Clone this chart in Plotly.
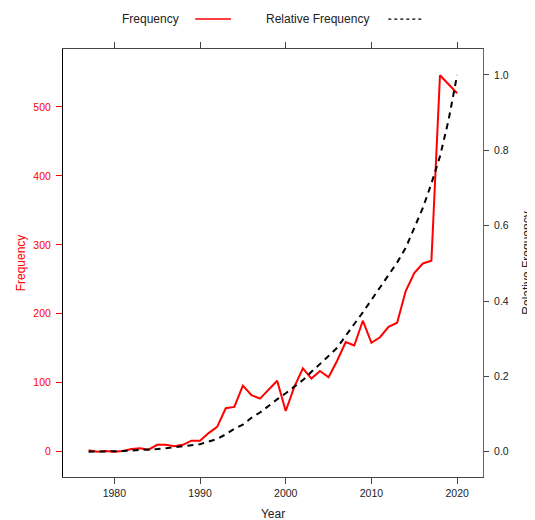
import plotly.graph_objects as go

years = list(range(1977, 2021))
frequency = [2, 0, 1, 0, 1, 4, 5, 3, 10, 10, 8, 10, 16, 16, 27, 36, 63, 65, 96, 82,
             77, 90, 103, 59, 94, 121, 106, 117, 108, 132, 159, 154, 190, 158, 166, 181,
             187, 233, 259, 273, 277, 546, 533, 520]
relative_frequency = [0.000, 0.000, 0.001, 0.001, 0.002, 0.003, 0.004, 0.005, 0.007, 0.009,
                      0.011, 0.014, 0.017, 0.020, 0.026, 0.034, 0.046, 0.061, 0.072, 0.090,
                      0.104, 0.122, 0.139, 0.155, 0.172, 0.190, 0.212, 0.232, 0.254, 0.276,
                      0.306, 0.339, 0.370, 0.404, 0.438, 0.469, 0.502, 0.541, 0.594, 0.647,
                      0.712, 0.784, 0.880, 1.000]
year_ticks = [1980, 1990, 2000, 2010, 2020]
freq_ticks = [0, 100, 200, 300, 400, 500]
rel_ticks = [0.0, 0.2, 0.4, 0.6, 0.8, 1.0]

FONT = "Liberation Sans, Arial, sans-serif"
RED = "#FF0000"

fig = go.Figure()
fig.add_trace(go.Scatter(x=years, y=frequency, mode="lines",
                         line=dict(color=RED, width=2), xaxis="x", yaxis="y",
                         showlegend=False, name="Frequency"))
fig.add_trace(go.Scatter(x=years, y=relative_frequency, mode="lines",
                         line=dict(color="black", width=2, dash="6px,5px"),
                         xaxis="x", yaxis="y2", showlegend=False,
                         name="Relative Frequency"))

fig.update_layout(
    width=535, height=520,
    margin=dict(l=55, r=60, t=41, b=51, autoexpand=False),
    paper_bgcolor="white", plot_bgcolor="white",
    font=dict(family=FONT, size=11, color="#222"),
    showlegend=False,
    xaxis=dict(range=[1974.01, 2023.02], tickvals=year_ticks,
               ticks="outside", ticklen=6, tickcolor="#444", tickwidth=1,
               showline=True, linecolor="#444", linewidth=1, mirror="ticks",
               showgrid=False, zeroline=False, automargin=False,
               tickfont=dict(size=10.5, color="#222"),
               title=dict(text="Year", font=dict(size=12, color="#222"),
                          standoff=12)),
    yaxis=dict(range=[-36.7, 584.1], tickvals=freq_ticks,
               ticks="outside", ticklen=6, tickcolor=RED, tickwidth=1,
               showline=True, linecolor="black", linewidth=1,
               showgrid=False, zeroline=False, automargin=False,
               ticklabelstandoff=3,
               tickfont=dict(size=10.5, color=RED),
               title=dict(text="Frequency", font=dict(size=12, color=RED),
                          standoff=5)),
    yaxis2=dict(overlaying="y", side="right", anchor="x",
                range=[-0.0672, 1.069], tickvals=rel_ticks, tickformat=".1f",
                ticks="outside", ticklen=5, tickcolor="#444", tickwidth=1,
                showline=True, linecolor="#666", linewidth=1,
                showgrid=False, zeroline=False, automargin=False,
                ticklabelstandoff=3,
                tickfont=dict(size=10.5, color="#222"),
                title=dict(text="Relative Frequency",
                           font=dict(size=12, color="#222"), standoff=14)),
)

# manual legend (text followed by line sample), in paper coordinates
leg_y = 1.070
fig.add_annotation(text="Frequency", xref="paper", yref="paper", x=0.1352, y=leg_y,
                   xanchor="left", yanchor="middle", showarrow=False,
                   font=dict(size=12, color="#222"))
fig.add_annotation(text="Relative Frequency", xref="paper", yref="paper", x=0.4788,
                   y=leg_y, xanchor="left", yanchor="middle", showarrow=False,
                   font=dict(size=12, color="#222"))
fig.add_shape(type="line", xref="paper", yref="paper", x0=0.3148, x1=0.400,
              y0=leg_y, y1=leg_y, line=dict(color=RED, width=1.5))
fig.add_shape(type="line", xref="paper", yref="paper", x0=0.7745, x1=0.857,
              y0=leg_y, y1=leg_y, line=dict(color="black", width=1.2, dash="3px,3px"))

fig.write_html("out.html")
